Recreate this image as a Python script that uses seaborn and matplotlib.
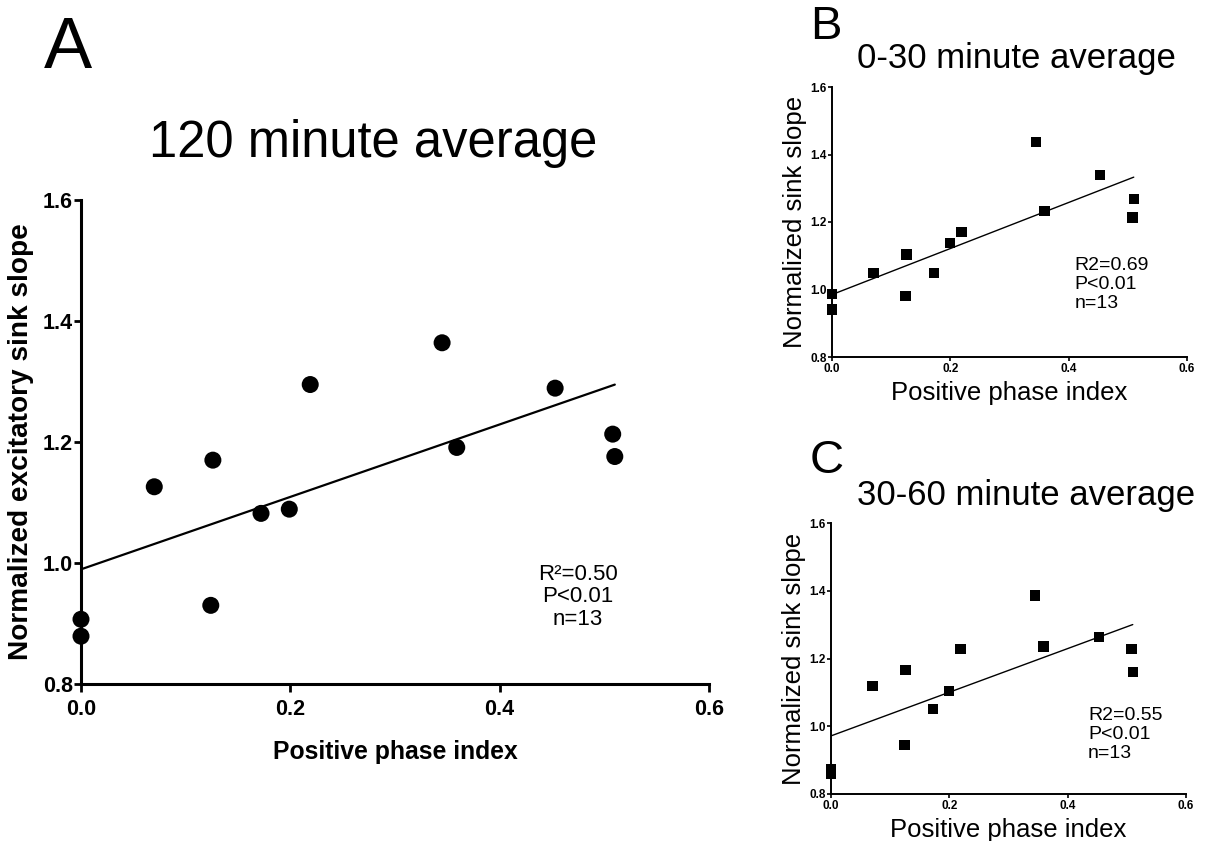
import numpy as np
import pandas as pd
import seaborn as sns
import matplotlib
matplotlib.use("Agg")
import matplotlib.pyplot as plt
from matplotlib import font_manager

# Positive phase index of each recording site (shared by all panels)
phase_index = [0.0, 0.0, 0.070, 0.124, 0.126, 0.172, 0.199, 0.219, 0.345, 0.359, 0.453, 0.508, 0.510]
# Normalized excitatory sink slope, 120 minute average
slope_120 = [0.907, 0.879, 1.126, 0.930, 1.170, 1.082, 1.089, 1.295, 1.364, 1.191, 1.289, 1.213, 1.176]
# Normalized sink slope, 0-30 minute average
slope_0_30 = [0.986, 0.941, 1.048, 0.981, 1.104, 1.049, 1.138, 1.171, 1.438, 1.232, 1.339, 1.213, 1.269]
# Normalized sink slope, 30-60 minute average
slope_30_60 = [0.873, 0.859, 1.118, 0.944, 1.166, 1.051, 1.105, 1.228, 1.386, 1.235, 1.264, 1.228, 1.161]

x_ticks = [0.0, 0.2, 0.4, 0.6]
y_ticks = [0.8, 1.0, 1.2, 1.4, 1.6]
stats_a = ["R\u00b2=0.50", "P<0.01", "n=13"]
stats_b = ["R2=0.69", "P<0.01", "n=13"]
stats_c = ["R2=0.55", "P<0.01", "n=13"]

sns.set_style("ticks")


def pick(families, fallback):
    for family in families:
        try:
            font_manager.findfont(font_manager.FontProperties(family=family), fallback_to_default=False)
            return family
        except Exception:
            continue
    return fallback


REG = pick(["Liberation Sans"], "DejaVu Sans")
NARROW = pick(["Liberation Sans Narrow", "Arial Narrow"], None)
HAS_NARROW = NARROW is not None
if not HAS_NARROW:
    NARROW = REG

plt.rcParams["font.family"] = [REG, "DejaVu Sans"]
for key in ["text.color", "axes.labelcolor", "xtick.color", "ytick.color", "axes.edgecolor"]:
    plt.rcParams[key] = "black"

# sizes for the condensed bold labels of panel A (smaller if only the regular width face exists)
tick_a = 19 if HAS_NARROW else 15.5
xlabel_a = 21.5 if HAS_NARROW else 17.8
ylabel_a = 24.5 if HAS_NARROW else 20.2
stat_a = 20 if HAS_NARROW else 16

W, H = 1205, 841
fig = plt.figure(figsize=(W / 100, H / 100), dpi=100)


def box(l, r, t, b):
    return [l / W, (H - b) / H, (r - l) / W, (b - t) / H]


df = pd.DataFrame({"x": phase_index, "a": slope_120, "b": slope_0_30, "c": slope_30_60})

# ---- Panel A ----
axA = fig.add_axes(box(81, 709, 200, 684))
sns.regplot(data=df, x="x", y="a", ax=axA, ci=None, marker="o",
            scatter_kws=dict(s=150, color="black", alpha=1, edgecolor="none", clip_on=False, zorder=3),
            line_kws=dict(color="black", lw=1.6))
axA.set_xlim(0, 0.6)
axA.set_ylim(0.8, 1.6)
axA.set_xticks(x_ticks)
axA.set_yticks(y_ticks)
axA.set_xticklabels([f"{v:.1f}" for v in x_ticks], fontfamily=NARROW, fontweight="bold", fontsize=tick_a)
axA.set_yticklabels([f"{v:.1f}" for v in y_ticks], fontfamily=NARROW, fontweight="bold", fontsize=tick_a)
axA.tick_params(axis="both", direction="out", width=2, color="black")
axA.tick_params(axis="y", length=5, pad=1)
axA.tick_params(axis="x", length=6, pad=5)
for s in ["left", "bottom"]:
    axA.spines[s].set_linewidth(2.2)
    axA.spines[s].set_color("black")
sns.despine(ax=axA)
axA.set_xlabel("Positive phase index", fontfamily=NARROW, fontweight="bold", fontsize=xlabel_a, labelpad=14)
axA.set_ylabel("Normalized excitatory sink slope", fontfamily=NARROW, fontweight="bold",
               fontsize=ylabel_a, labelpad=6)
axA.text(0.791, 0.18, "\n".join(stats_a), transform=axA.transAxes, ha="center", va="center",
         fontfamily=NARROW, fontsize=stat_a, linespacing=1.1)


def small_panel(ax, col, stats, sx, sy):
    sns.regplot(data=df, x="x", y=col, ax=ax, ci=None, marker="s",
                scatter_kws=dict(s=55, color="black", alpha=1, edgecolor="none", clip_on=False, zorder=3),
                line_kws=dict(color="black", lw=1.0))
    ax.set_xlim(0, 0.6)
    ax.set_ylim(0.8, 1.6)
    ax.set_xticks(x_ticks)
    ax.set_yticks(y_ticks)
    ax.set_xticklabels([f"{v:.1f}" for v in x_ticks], fontfamily=NARROW, fontweight="bold", fontsize=8.5)
    ax.set_yticklabels([f"{v:.1f}" for v in y_ticks], fontfamily=NARROW, fontweight="bold", fontsize=8.5)
    ax.tick_params(axis="both", direction="out", width=1.2, length=3, pad=1, color="black")
    for s in ["left", "bottom"]:
        ax.spines[s].set_linewidth(1.4)
        ax.spines[s].set_color("black")
    sns.despine(ax=ax)
    ax.set_xlabel("Positive phase index", fontsize=18.5, labelpad=4.5)
    ax.set_ylabel("Normalized sink slope", fontsize=18.5, labelpad=2)
    ax.text(sx, sy, "\n".join(stats), transform=ax.transAxes, ha="left", va="top",
            fontsize=14, linespacing=1.15)


# ---- Panel B ----
axB = fig.add_axes(box(832, 1187, 87, 357))
small_panel(axB, "b", stats_b, 0.684, 0.37)

# ---- Panel C ----
axC = fig.add_axes(box(831, 1186, 523, 794))
small_panel(axC, "c", stats_c, 0.724, 0.32)

# ---- Panel letters and titles ----
fig.text(44 / W, (H - 68) / H, "A", fontsize=52, va="baseline", ha="left")
fig.text(373 / W, (H - 157) / H, "120 minute average", fontsize=36.5, va="baseline", ha="center")
fig.text(810 / W, (H - 39) / H, "B", fontsize=34, va="baseline", ha="left")
fig.text(857 / W, (H - 68) / H, "0-30 minute average", fontsize=25, va="baseline", ha="left")
fig.text(810 / W, (H - 473) / H, "C", fontsize=34, va="baseline", ha="left")
fig.text(857 / W, (H - 505) / H, "30-60 minute average", fontsize=25, va="baseline", ha="left")

fig.savefig("out.png", dpi=100, facecolor="white")
